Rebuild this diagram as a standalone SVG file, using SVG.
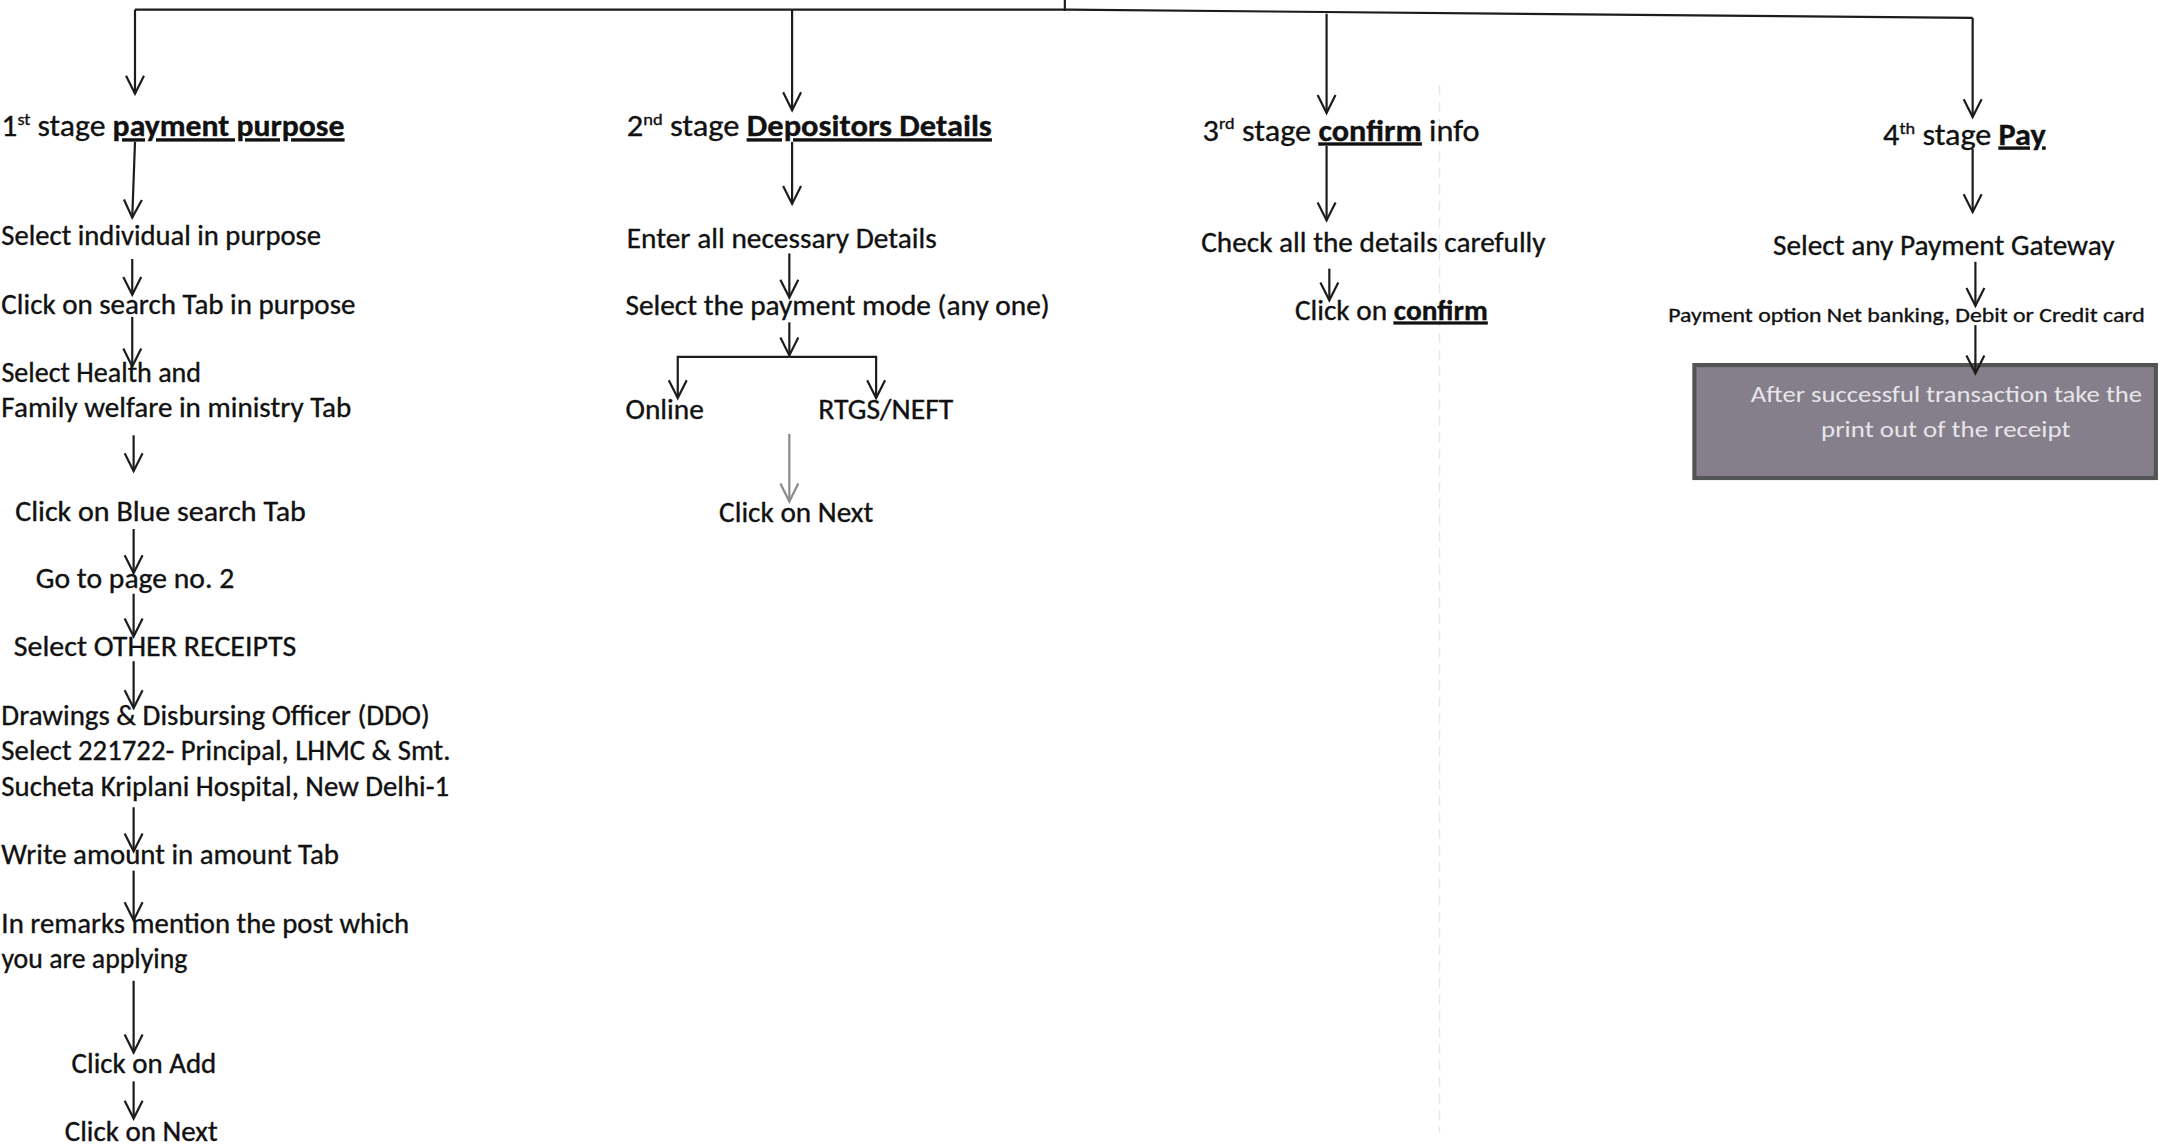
<svg xmlns="http://www.w3.org/2000/svg" width="2160" height="1145" viewBox="0 0 2160 1145">
<defs>
<style>
text{font-family:Carlito,Lato,"Open Sans",sans-serif;fill:#111111;font-size:20.5px;stroke:#111111;stroke-width:0.25}
.h{font-size:22px}
.b{font-weight:bold;text-decoration:underline}
.sup{font-size:12.5px}
.sm{font-size:15.5px}
.bx{font-size:16.5px;fill:#e6e6ea;stroke:none}
.c{fill:none;stroke:#1c1c1c;stroke-width:1.6}
.g{fill:none;stroke:#8a8a8a;stroke-width:1.6}
</style>
<marker id="ah" viewBox="-14 -8 16 16" markerWidth="16" markerHeight="16" refX="0" refY="0" orient="auto" markerUnits="userSpaceOnUse">
<path d="M-13,-6.5 L0,0 L-13,6.5" fill="none" stroke="#1c1c1c" stroke-width="1.6"/>
</marker>
<marker id="ahg" viewBox="-14 -8 16 16" markerWidth="16" markerHeight="16" refX="0" refY="0" orient="auto" markerUnits="userSpaceOnUse">
<path d="M-13,-6.5 L0,0 L-13,6.5" fill="none" stroke="#8a8a8a" stroke-width="1.6"/>
</marker>
</defs>
<rect width="2160" height="1145" fill="#ffffff"/>
<g transform="scale(1.37755)">
<line x1="1045" y1="62" x2="1045" y2="822" stroke="#e6e6e6" stroke-width="1" stroke-dasharray="7 5"/>
<g id="stage1">
<text class="h" x="1" y="99" textLength="249" lengthAdjust="spacingAndGlyphs">1<tspan class="sup" dy="-8">st</tspan><tspan dy="8"> stage </tspan><tspan class="b">payment purpose</tspan></text>
</g>
<g id="s1-individual"><text x="1" y="178" textLength="232" lengthAdjust="spacingAndGlyphs">Select individual in purpose</text></g>
<g id="s1-search"><text x="1" y="228" textLength="257" lengthAdjust="spacingAndGlyphs">Click on search Tab in purpose</text></g>
<g id="s1-health">
<text x="1" y="277" textLength="145" lengthAdjust="spacingAndGlyphs">Select Health and</text>
<text x="1" y="303" textLength="254" lengthAdjust="spacingAndGlyphs">Family welfare in ministry Tab</text>
</g>
<g id="s1-blue"><text x="11" y="378" textLength="211" lengthAdjust="spacingAndGlyphs">Click on Blue search Tab</text></g>
<g id="s1-page"><text x="26" y="427" textLength="144" lengthAdjust="spacingAndGlyphs">Go to page no. 2</text></g>
<g id="s1-other"><text x="10" y="476" textLength="205" lengthAdjust="spacingAndGlyphs">Select OTHER RECEIPTS</text></g>
<g id="s1-ddo">
<text x="1" y="526" textLength="311" lengthAdjust="spacingAndGlyphs">Drawings &amp; Disbursing Officer (DDO)</text>
<text x="1" y="552" textLength="326" lengthAdjust="spacingAndGlyphs">Select 221722- Principal, LHMC &amp; Smt.</text>
<text x="1" y="578" textLength="325" lengthAdjust="spacingAndGlyphs">Sucheta Kriplani Hospital, New Delhi-1</text>
</g>
<g id="s1-amount"><text x="1" y="627" textLength="245" lengthAdjust="spacingAndGlyphs">Write amount in amount Tab</text></g>
<g id="s1-remarks">
<text x="1" y="677" textLength="296" lengthAdjust="spacingAndGlyphs">In remarks mention the post which</text>
<text x="1" y="703" textLength="135" lengthAdjust="spacingAndGlyphs">you are applying</text>
</g>
<g id="s1-add"><text x="52" y="779" textLength="105" lengthAdjust="spacingAndGlyphs">Click on Add</text></g>
<g id="s1-next"><text x="47" y="828" textLength="111" lengthAdjust="spacingAndGlyphs">Click on Next</text></g>
<g id="stage2">
<text class="h" x="455" y="99" textLength="265" lengthAdjust="spacingAndGlyphs">2<tspan class="sup" dy="-8">nd</tspan><tspan dy="8"> stage </tspan><tspan class="b">Depositors Details</tspan></text>
</g>
<g id="s2-enter"><text x="455" y="180" textLength="225" lengthAdjust="spacingAndGlyphs">Enter all necessary Details</text></g>
<g id="s2-mode"><text x="454" y="229" textLength="308" lengthAdjust="spacingAndGlyphs">Select the payment mode (any one)</text></g>
<g id="s2-online"><text x="454" y="304" textLength="57" lengthAdjust="spacingAndGlyphs">Online</text></g>
<g id="s2-rtgs"><text x="594" y="304" textLength="98" lengthAdjust="spacingAndGlyphs">RTGS/NEFT</text></g>
<g id="s2-next"><text x="522" y="379" textLength="112" lengthAdjust="spacingAndGlyphs">Click on Next</text></g>
<g id="stage3">
<text class="h" x="873" y="102" textLength="201" lengthAdjust="spacingAndGlyphs">3<tspan class="sup" dy="-8">rd</tspan><tspan dy="8"> stage </tspan><tspan class="b">confirm</tspan> info</text>
</g>
<g id="s3-check"><text x="872" y="183" textLength="250" lengthAdjust="spacingAndGlyphs">Check all the details carefully</text></g>
<g id="s3-confirm"><text x="940" y="232" textLength="140" lengthAdjust="spacingAndGlyphs">Click on <tspan class="b">confirm</tspan></text></g>
<g id="stage4">
<text class="h" x="1367" y="105" textLength="118" lengthAdjust="spacingAndGlyphs">4<tspan class="sup" dy="-8">th</tspan><tspan dy="8"> stage </tspan><tspan class="b">Pay</tspan></text>
</g>
<g id="s4-gateway"><text x="1287" y="185" textLength="248" lengthAdjust="spacingAndGlyphs">Select any Payment Gateway</text></g>
<g id="s4-option"><text class="sm" x="1211" y="234" textLength="346" lengthAdjust="spacingAndGlyphs">Payment option Net banking, Debit or Credit card</text></g>
<g id="s4-receipt">
<rect x="1230" y="265" width="335" height="82" fill="#857f8b" stroke="#545454" stroke-width="3"/>
<text class="bx" x="1271" y="292" textLength="284" lengthAdjust="spacingAndGlyphs">After successful transaction take the</text>
<text class="bx" x="1322" y="317" textLength="181" lengthAdjust="spacingAndGlyphs">print out of the receipt</text>
</g>
<g id="connectors">
<path class="c" d="M98,7 H775 L1432,13"/>
<path class="c" d="M773,0 V8"/>
<path class="c" marker-end="url(#ah)" d="M98,7 V68"/>
<path class="c" marker-end="url(#ah)" d="M575,7 V80"/>
<path class="c" marker-end="url(#ah)" d="M963,10 V82"/>
<path class="c" marker-end="url(#ah)" d="M1432,13 V85"/>
<path class="c" marker-end="url(#ah)" d="M98,103 L96,158"/>
<path class="c" marker-end="url(#ah)" d="M96,188 V214"/>
<path class="c" marker-end="url(#ah)" d="M96,230 V266"/>
<path class="c" marker-end="url(#ah)" d="M97,316 V342"/>
<path class="c" marker-end="url(#ah)" d="M97,384 V416"/>
<path class="c" marker-end="url(#ah)" d="M97,431 V462"/>
<path class="c" marker-end="url(#ah)" d="M97,480 V514"/>
<path class="c" marker-end="url(#ah)" d="M97,586 V618"/>
<path class="c" marker-end="url(#ah)" d="M97,632 V668"/>
<path class="c" marker-end="url(#ah)" d="M97,712 V764"/>
<path class="c" marker-end="url(#ah)" d="M97,785 V812"/>
<path class="c" marker-end="url(#ah)" d="M575,103 V148"/>
<path class="c" marker-end="url(#ah)" d="M573,184 V216"/>
<path class="c" marker-end="url(#ah)" d="M573,234 V258"/>
<path class="c" marker-end="url(#ah)" d="M573,259 H492 V289"/>
<path class="c" marker-end="url(#ah)" d="M573,259 H636 V289"/>
<path class="g" marker-end="url(#ahg)" d="M573,315 V364"/>
<path class="c" marker-end="url(#ah)" d="M963,106 V160"/>
<path class="c" marker-end="url(#ah)" d="M965,195 V218"/>
<path class="c" marker-end="url(#ah)" d="M1432,108 V154"/>
<path class="c" marker-end="url(#ah)" d="M1434,190 V222"/>
<path class="c" marker-end="url(#ah)" d="M1434,236 V271"/>
</g>
</g>
</svg>
